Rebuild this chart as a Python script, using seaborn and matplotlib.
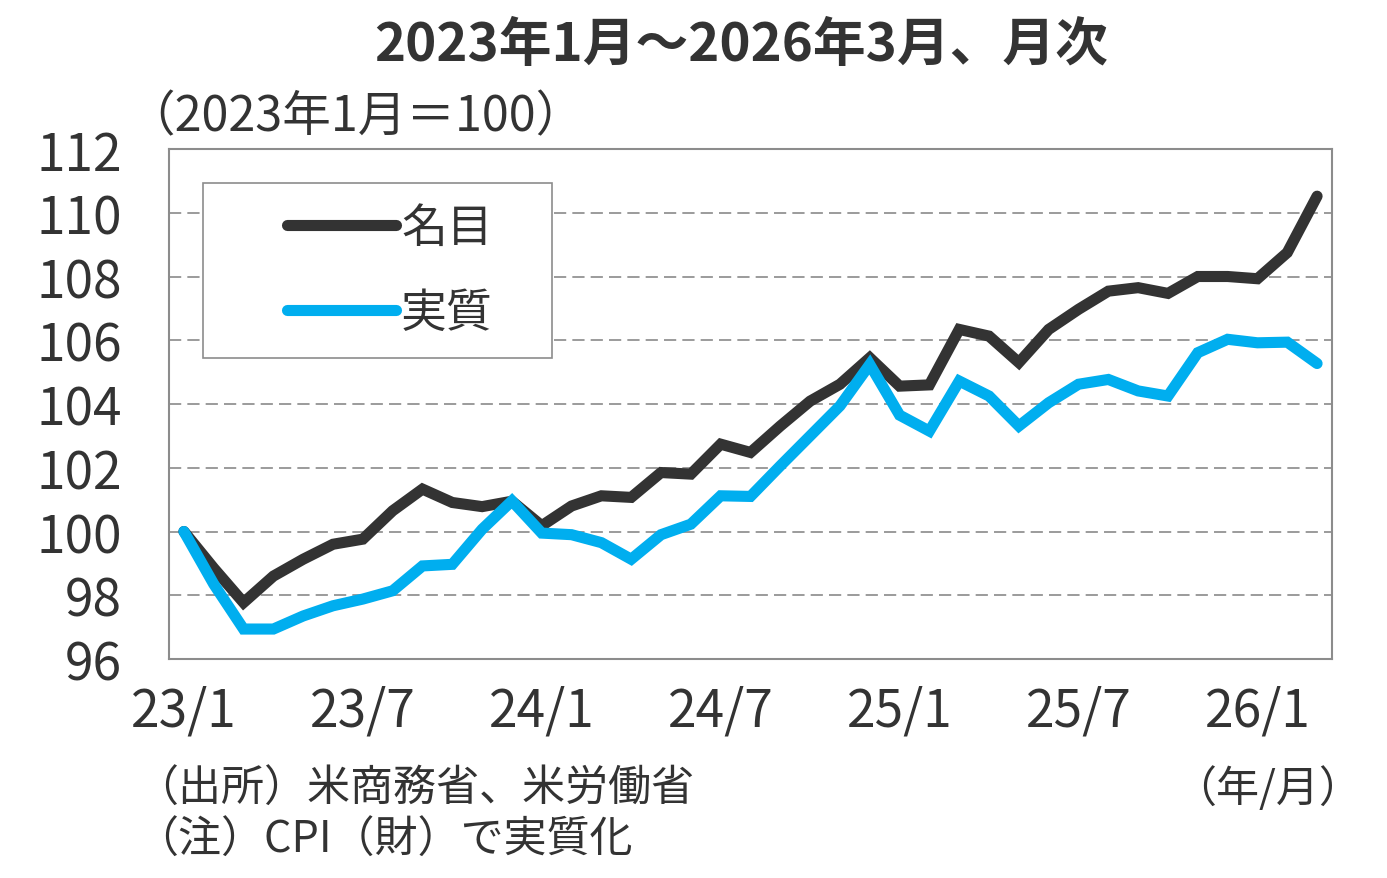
import numpy as np
import pandas as pd
import matplotlib
matplotlib.use("Agg")
import matplotlib.pyplot as plt
from matplotlib.lines import Line2D
from matplotlib.legend_handler import HandlerLine2D
import seaborn as sns

# ---- data ----
nominal = [100.0, 98.85, 97.77, 98.6, 99.13, 99.6, 99.76, 100.65, 101.33, 100.91,
           100.78, 100.95, 100.18, 100.8, 101.12, 101.07, 101.85, 101.8, 102.74, 102.48,
           103.31, 104.09, 104.62, 105.45, 104.56, 104.6, 106.34, 106.13, 105.3, 106.34,
           106.97, 107.54, 107.65, 107.47, 108.0, 108.0, 107.93, 108.75, 110.52]
real = [100.0, 98.35, 96.94, 96.94, 97.35, 97.67, 97.88, 98.14, 98.92, 98.97,
        100.07, 100.96, 99.95, 99.9, 99.65, 99.13, 99.9, 100.23, 101.12, 101.1,
        102.06, 103.0, 103.94, 105.24, 103.65, 103.15, 104.72, 104.25, 103.31, 104.04,
        104.62, 104.77, 104.41, 104.25, 105.61, 106.03, 105.92, 105.94, 105.27]
series_names = ["名目", "実質"]
xtick_labels = ["23/1", "23/7", "24/1", "24/7", "25/1", "25/7", "26/1"]
ytick_values = [96, 98, 100, 102, 104, 106, 108, 110, 112]

title = "2023年1月～2026年3月、月次"
unit_label = "（2023年1月＝100）"
source_note = "（出所）米商務省、米労働省"
note = "（注）CPI（財）で実質化"
axis_unit = "（年/月）"

colors = {"名目": "#333333", "実質": "#00AEEF"}
text_color = "#333333"

sns.set_theme(style="white")
plt.rcParams["font.family"] = ["Noto Sans CJK JP", "DejaVu Sans"]

months = np.arange(len(nominal))
df = pd.DataFrame({
    "month": np.concatenate([months, months]),
    "value": np.concatenate([nominal, real]),
    "series": [series_names[0]] * len(nominal) + [series_names[1]] * len(real),
})

W, H = 1387, 879
fig = plt.figure(figsize=(W / 100, H / 100), dpi=100)
ax = fig.add_axes([169 / W, 1 - 660 / H, (1332 - 169) / W, (660 - 150) / H])

sns.lineplot(data=df, x="month", y="value", hue="series", hue_order=series_names,
             palette=colors, linewidth=8, solid_capstyle="round",
             solid_joinstyle="miter", ax=ax, legend=False)

ax.set_xlim(-0.5, len(nominal) - 0.5)
ax.set_ylim(96, 112)
ax.set_yticks(ytick_values)
ax.set_yticklabels([str(v) for v in ytick_values], fontsize=37, color=text_color)
ax.set_xticks(months[::6])
ax.set_xticklabels(xtick_labels, fontsize=37, color=text_color)
ax.tick_params(axis="y", length=0, pad=34)
ax.tick_params(axis="x", length=0, pad=18)
ax.set_xlabel("")
ax.set_ylabel("")

for v in ytick_values[1:-1]:
    ax.axhline(v, color="#808080", linewidth=1.1, linestyle=(0, (8, 4)), zorder=0.5)

for s in ax.spines.values():
    s.set_color("#8c8c8c")
    s.set_linewidth(1.5)


class OffsetLineHandler(HandlerLine2D):
    def __init__(self, frac, **kw):
        super().__init__(**kw)
        self.frac = frac

    def create_artists(self, legend, orig_handle, xdescent, ydescent, width,
                       height, fontsize, trans):
        y = (height - ydescent) / 2
        x0 = -xdescent + width * self.frac
        line = Line2D([x0, -xdescent + width], [y, y])
        self.update_prop(line, orig_handle, legend)
        line.set_transform(trans)
        return [line]


handles = ax.get_lines()[:2]
ax_h = 660 - 150
ax_w = 1332 - 169
leg = ax.legend(handles, series_names, loc="upper left",
                bbox_to_anchor=((203 - 169) / ax_w, (660 - 355) / ax_h,
                                (552 - 203) / ax_w, (355 - 184) / ax_h),
                mode="expand",
                fontsize=33, frameon=True, fancybox=False, framealpha=1,
                edgecolor="#8c8c8c", handlelength=3.75, handletextpad=0.12,
                labelspacing=0.8, borderpad=0.45, borderaxespad=0,
                handler_map={h: OffsetLineHandler(0.37) for h in handles})
leg.get_frame().set_linewidth(1.2)
for t in leg.get_texts():
    t.set_color(text_color)

fig.text(741 / W, 1 - 46 / H, title, fontsize=38, fontweight="bold",
         color=text_color, ha="center", va="center")
fig.text(126 / W, 1 - 118 / H, unit_label, fontsize=35,
         color=text_color, ha="left", va="center")
fig.text(135 / W, 1 - 790 / H, source_note, fontsize=31,
         color=text_color, ha="left", va="center")
fig.text(135 / W, 1 - 841 / H, note, fontsize=31,
         color=text_color, ha="left", va="center")
fig.text(1362 / W, 1 - 790 / H, axis_unit, fontsize=31,
         color=text_color, ha="right", va="center")

fig.savefig("out.png", dpi=100, facecolor="white")
